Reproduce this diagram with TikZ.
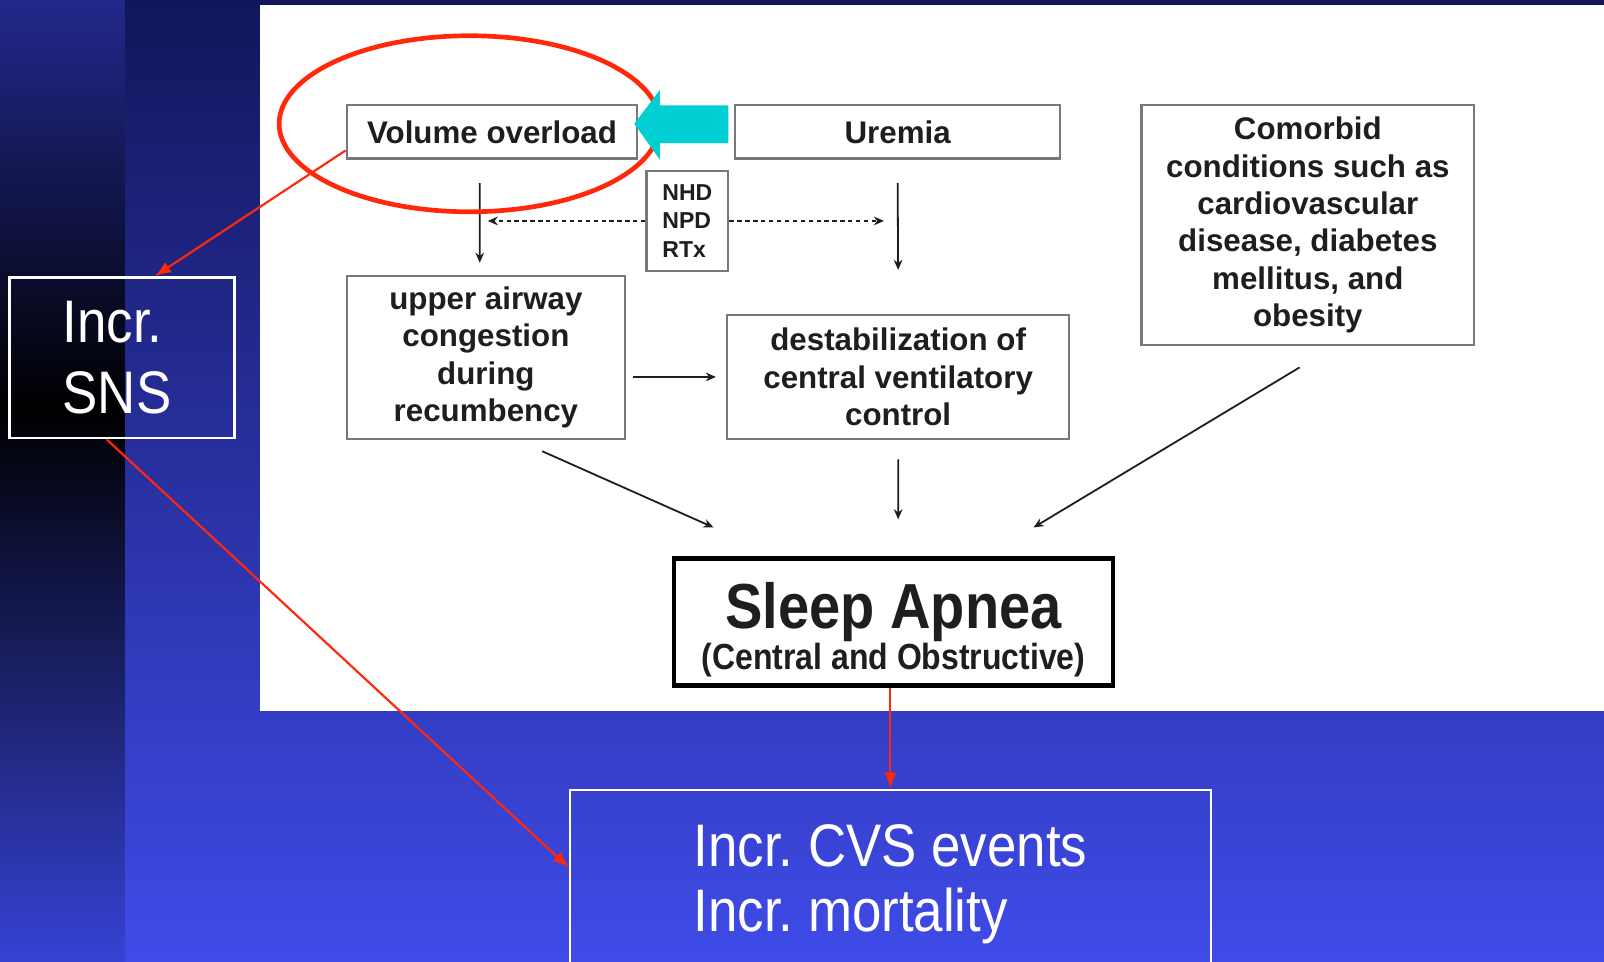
\documentclass[tikz,border=0pt]{standalone}
\usepackage{fontspec}
\setmainfont{Liberation Sans}
\newfontfamily\slidefont[FakeStretch=0.88]{Liberation Sans}
\usetikzlibrary{arrows.meta}
\frenchspacing

\definecolor{slidered}{RGB}{255,40,10}
\definecolor{arrowcyan}{RGB}{0,208,212}
\definecolor{boxgray}{RGB}{120,120,120}
\definecolor{inkgray}{RGB}{30,30,30}
\definecolor{bgtop}{RGB}{18,22,90}
\definecolor{bgbot}{RGB}{63,75,232}
\definecolor{striptop}{RGB}{34,40,140}
\definecolor{stripbot}{RGB}{54,66,212}

\begin{document}
\begin{tikzpicture}[x=0.01cm,y=-0.01cm,
  flowbox/.style={draw=boxgray, line width=0.6pt, fill=white, text=inkgray, align=center,
    font=\bfseries\fontsize{8.7}{10.4}\selectfont, inner sep=0pt},
  flowarrow/.style={draw=inkgray, line width=0.5pt, -{Stealth[length=2.8pt,width=2.4pt]}},
  slidebox/.style={draw=white, line width=0.7pt, text=white, align=left, inner ysep=0pt},
  redarrow/.style={draw=slidered, line width=0.6pt, -{Latex[length=4.5pt,width=3.4pt]}}]

% background
\useasboundingbox (0,0) rectangle (1568,940);
\shade[top color=bgtop, bottom color=bgbot] (0,0) rectangle (1568,940);
\shade[top color=striptop, bottom color=black] (0,0) rectangle (122,400);
\shade[top color=black, bottom color=stripbot] (0,400) rectangle (122,940);
\fill[white] (254,5) rectangle (1568,695);

% flow chart
\node[flowbox, minimum width=2.84cm, minimum height=0.52cm] (vol) at (481,129) {Volume overload};
\node[flowbox, minimum width=3.17cm, minimum height=0.52cm] (ure) at (877.5,129) {Uremia};
\node[flowbox, minimum width=3.25cm, minimum height=2.34cm] (como) at (1278.5,220)
  {Comorbid\\conditions such as\\cardiovascular\\disease, diabetes\\mellitus, and\\obesity};
\node[flowbox, minimum width=0.80cm, minimum height=0.98cm, align=left,
  font=\bfseries\fontsize{6.4}{8}\selectfont] (nhd) at (672,216) {NHD\\NPD\\RTx};
\node[flowbox, minimum width=2.72cm, minimum height=1.59cm] (air) at (475,349.5)
  {upper airway\\congestion\\during\\recumbency};
\node[flowbox, minimum width=3.34cm, minimum height=1.21cm] (dest) at (878,368.5)
  {destabilization of\\central ventilatory\\control};
\node[flowbox, draw=black, line width=1.3pt, minimum width=4.29cm, minimum height=1.24cm,
  font=\slidefont\bfseries\fontsize{10.1}{11.4}\selectfont] (sleep) at (873.5,608)
  {{\fontsize{17.7}{17.7}\selectfont\rule{0pt}{17pt}Sleep Apnea}\\(Central and Obstructive)};

\draw[flowarrow] ([xshift=-0.12cm,yshift=-0.23cm]vol.south) -- ([xshift=-0.06cm,yshift=0.12cm]air.north);
\draw[flowarrow] ([yshift=-0.23cm]ure.south) -- ([yshift=0.43cm]dest.north);
\draw[flowarrow, dash pattern=on 1.2pt off 1pt] (nhd.west) -- ([xshift=-1.54cm]nhd.west);
\draw[flowarrow, dash pattern=on 1.2pt off 1pt] (nhd.east) -- ([xshift=1.51cm]nhd.east);
\draw[flowarrow] ([xshift=-0.91cm]dest.west) -- ([xshift=-0.1cm]dest.west);
\draw[flowarrow] ([xshift=0.55cm,yshift=-0.11cm]air.south) -- ([xshift=0.41cm,yshift=0.28cm]sleep.north west);
\draw[flowarrow] ([yshift=-0.19cm]dest.south) -- ([xshift=0.045cm,yshift=0.36cm]sleep.north);
\draw[flowarrow] ([xshift=-0.08cm,yshift=-0.21cm]como.south) -- ([xshift=-0.80cm,yshift=0.28cm]sleep.north east);

% highlight
\draw[slidered, line width=1.3pt] (459,121) ellipse [x radius=1.86cm, y radius=0.86cm];
\fill[arrowcyan] (620,121) -- (645,88) -- (645,103) -- (712,103) -- (712,140) -- (645,140) -- (645,156) -- cycle;

% slide boxes
\node[slidebox, anchor=north west, text width=1.16cm, inner xsep=0.52cm, minimum height=1.57cm,
  font=\slidefont\fontsize{16.7}{19.6}\selectfont] (sns) at (8,270) {Incr.\\SNS};
\node[slidebox, anchor=north west, minimum width=6.26cm, inner ysep=0.34cm,
  font=\slidefont\fontsize{16.7}{18}\selectfont] (cvs) at (556,771) {Incr. CVS events\\Incr. mortality};

\draw[redarrow] ([yshift=0.09cm]vol.south west) -- ([xshift=0.32cm]sns.north);
\draw[redarrow] ([xshift=-0.15cm]sns.south) -- ([yshift=-0.77cm]cvs.north west);
\draw[redarrow] (sleep.south -| cvs.north) -- (cvs.north);
\end{tikzpicture}
\end{document}
